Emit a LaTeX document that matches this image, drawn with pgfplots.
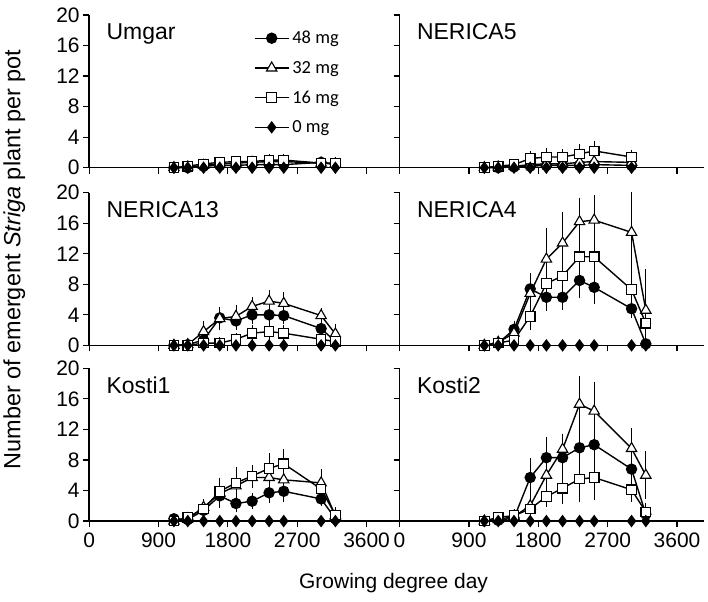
\documentclass[border=0pt]{standalone}
\usepackage{pgfplots}
\usepackage{pgfplotstable}
\pgfplotsset{compat=1.18}
\usepackage{fontspec}
\setmainfont{Liberation Sans}
\newfontfamily\legfont{Carlito}

% x = growing degree day; aNN = mean, eNN = error, for each dose
\pgfplotstableread{
x    a48 e48 a32 e32 a16 e16 a0
1100 0.0 0.0 0.0 0.0 0.0 0.0 0
1280 0.0 0.0 0.1 0.1 0.2 0.1 0
1485 0.2 0.1 0.3 0.1 0.5 0.1 0
1695 0.3 0.1 0.5 0.2 0.7 0.2 0
1905 0.3 0.1 0.6 0.2 0.8 0.2 0
2115 0.4 0.1 0.7 0.2 0.8 0.2 0
2335 0.4 0.1 0.8 0.2 1.0 0.2 0
2525 0.4 0.1 0.8 0.2 1.0 0.2 0
3010 0.7 0.2 0.6 0.2 0.6 0.2 0
3195 0.4 0.1 0.5 0.2 0.6 0.2 0
}\umgar

\pgfplotstableread{
x    a48 e48 a32 e32 a16 e16 a0
1100 0.0 0.0 0.0 0.0 0.0 0.0 0
1280 0.0 0.0 0.1 0.1 0.2 0.1 0
1485 0.1 0.1 0.2 0.1 0.4 0.2 0
1695 0.2 0.1 0.4 0.2 1.2 0.5 0
1905 0.3 0.1 0.5 0.2 1.4 0.6 0
2115 0.3 0.1 0.5 0.2 1.4 0.5 0
2335 0.3 0.1 0.7 0.3 1.8 0.8 0
2525 0.4 0.2 0.8 0.3 2.2 0.8 0
3010 0.3 0.1 0.7 0.3 1.4 0.4 0
}\nericafive

\pgfplotstableread{
x    a48 e48 a32 e32 a16 e16 a0
1100 0.0 0.0 0.0 0.0 0.0 0.0 0
1280 0.1 0.1 0.1 0.1 0.0 0.0 0
1485 0.7 0.3 1.8 0.9 0.3 0.1 0
1695 3.6 0.7 3.5 1.0 0.3 0.2 0
1905 3.2 0.6 3.8 1.0 0.8 0.3 0
2115 4.0 0.6 5.1 0.7 1.6 0.5 0
2335 4.0 0.6 5.8 0.9 1.8 0.5 0
2525 3.9 0.6 5.5 1.0 1.6 0.5 0
3010 2.2 0.5 3.9 0.5 0.8 0.3 0
3195 0.5 0.3 1.5 0.8 0.5 0.3 0
}\nericathirteen

\pgfplotstableread{
x    a48 e48 a32  e32 a16  e16 a0
1100 0.0 0.0 0.0  0.0 0.0  0.0 0
1280 0.3 0.2 0.4  0.2 0.3  0.1 0
1485 2.1 0.6 1.6  0.5 0.7  0.5 0
1695 7.4 1.5 6.8  1.8 3.8  1.3 0
1905 6.3 1.2 11.3 3.5 8.1  2.0 0
2115 6.3 1.1 13.4 3.5 9.1  1.8 0
2335 8.5 1.8 16.2 2.6 11.6 2.7 0
2525 7.6 1.6 16.4 2.7 11.6 3.3 0
3010 4.8 0.7 14.8 4.8 7.3  2.2 0
3195 0.2 0.2 4.6  4.8 2.9  1.0 0
}\nericafour

\pgfplotstableread{
x    a48 e48 a32 e32 a16 e16 a0
1100 0.3 0.1 0.0 0.0 0.0 0.0 0
1280 0.2 0.1 0.3 0.1 0.5 0.2 0
1485 1.4 0.4 1.8 0.5 1.6 0.4 0
1695 3.3 1.0 3.6 1.2 3.9 1.2 0
1905 2.3 0.6 4.6 1.0 5.0 1.5 0
2115 2.6 0.5 5.7 0.8 5.9 0.9 0
2335 3.7 0.8 5.7 1.0 6.9 1.4 0
2525 3.9 0.9 5.4 1.1 7.5 1.4 0
3010 2.9 0.4 5.0 1.3 4.2 0.9 0
3195 0.3 0.2 0.7 0.4 0.8 0.5 0
}\kostione

\pgfplotstableread{
x    a48  e48 a32  e32 a16 e16 a0
1100 0.0  0.0 0.0  0.0 0.0 0.0 0
1280 0.1  0.1 0.2  0.1 0.5 0.2 0
1485 0.4  0.3 0.6  0.3 0.7 0.3 0
1695 5.7  2.0 2.0  0.8 1.6 0.6 0
1905 8.3  2.2 6.0  1.5 3.2 0.8 0
2115 8.3  2.3 9.4  1.5 4.3 1.5 0
2335 9.6  2.7 15.3 3.1 5.5 2.5 0
2525 10.0 2.9 14.4 3.3 5.7 2.4 0
3010 6.8  1.6 9.5  2.2 4.1 1.0 0
3195 0.9  0.5 6.0  2.6 1.2 0.6 0
}\kostitwo

\pgfplotsset{
  panel/.style={
    scale only axis, width=305pt, height=153pt,
    xmin=0, xmax=3950, ymin=0, ymax=20,
    axis x line=bottom, axis y line=left,
    axis line style={-, line width=1.5pt, black},
    xtick={0,900,1800,2700,3600}, ytick={0,4,...,20},
    tick align=outside, major tick length=6pt,
    tick style={line width=1.2pt, black},
    ticklabel style={font=\fontsize{21}{21}\selectfont},
    xticklabel style={yshift=-2pt},
    /pgf/number format/assume math mode=true,
    /pgf/number format/1000 sep={},
    clip=false, anchor=south west,
  },
  ebar/.style={error bars/.cd, y dir=both, y explicit,
    error bar style={line width=0.9pt, black},
    error mark options={black, mark size=4.2pt, line width=0.9pt}},
  s48/.style={black, line width=1.4pt, mark=*, mark size=5pt,
    mark options={solid, fill=black}},
  s32/.style={black, line width=1.4pt, mark=triangle*, mark size=6pt,
    mark options={solid, fill=white, line width=1.1pt}},
  s16/.style={black, line width=1.4pt, mark=square*, mark size=4.8pt,
    mark options={solid, fill=white, line width=1.1pt}},
  s0/.style={black, line width=1.4pt, mark=diamond*, mark size=5.2pt,
    mark options={solid, fill=black}},
}

\newcommand{\fourseries}[1]{%
  \addplot[s48, ebar] table[x=x, y=a48, y error=e48] {#1};
  \addplot[s32, ebar] table[x=x, y=a32, y error=e32] {#1};
  \addplot[s16, ebar] table[x=x, y=a16, y error=e16] {#1};
  \addplot[s0] table[x=x, y=a0] {#1};
}
\newcommand{\paneltitle}[1]{%
  \node[anchor=base west, font=\fontsize{23}{23}\selectfont]
    at ([xshift=14pt, yshift=-25pt]rel axis cs:0,1) {#1};
}

\begin{document}
\begin{tikzpicture}
\path (0,0) rectangle (708pt,-603pt);

% top row
\begin{axis}[panel, at={(88pt,-168pt)}, xticklabels={},
  legend cell align=left,
  legend image code/.code={\draw[mark repeat=2, mark phase=2, #1]
    plot coordinates {(0pt,0pt) (17pt,0pt) (34pt,0pt)};},
  legend style={at={(rel axis cs:0,1)}, anchor=north west,
    xshift=165pt, yshift=-14pt, draw=none, fill=none, inner sep=0pt,
    font=\legfont\fontsize{18.5}{18.5}\selectfont, row sep=12pt,
    /tikz/every odd column/.append style={column sep=1pt}}]
\fourseries{\umgar}
\legend{48 mg, 32 mg, 16 mg, 0 mg}
\paneltitle{Umgar}
\end{axis}

\begin{axis}[panel, at={(399pt,-168pt)}, xticklabels={}, yticklabels={}]
\fourseries{\nericafive}
\paneltitle{NERICA5}
\end{axis}

% middle row
\begin{axis}[panel, at={(88pt,-346pt)}, xticklabels={}]
\fourseries{\nericathirteen}
\paneltitle{NERICA13}
\end{axis}

\begin{axis}[panel, at={(399pt,-346pt)}, xticklabels={}, yticklabels={}]
\fourseries{\nericafour}
\paneltitle{NERICA4}
\end{axis}

% bottom row
\begin{axis}[panel, at={(88pt,-522pt)}]
\fourseries{\kostione}
\paneltitle{Kosti1}
\end{axis}

\begin{axis}[panel, at={(399pt,-522pt)}, yticklabels={}]
\fourseries{\kostitwo}
\paneltitle{Kosti2}
\end{axis}

\node[rotate=90, font=\fontsize{23.5}{23.5}\selectfont] at (13pt,-260pt)
  {Number of emergent \textit{Striga} plant per pot};
\node[font=\fontsize{21}{21}\selectfont] at (393pt,-584pt) {Growing degree day};
\end{tikzpicture}
\end{document}
